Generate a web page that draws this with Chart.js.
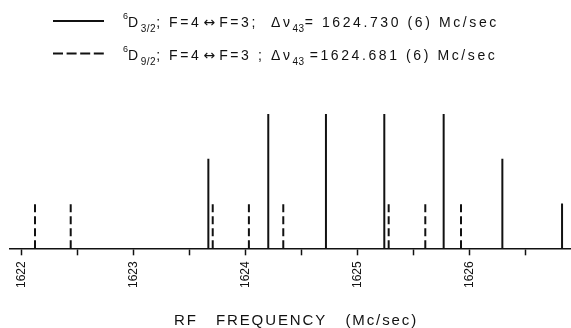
<!DOCTYPE html>
<html>
<head>
<meta charset="utf-8">
<script src="https://cdn.jsdelivr.net/npm/chart.js@4.4.1/dist/chart.umd.min.js"></script>
<style>
html,body{margin:0;padding:0;background:#fff;}
#wrap{position:relative;width:571px;height:328px;overflow:hidden;background:#fff;}
#c{position:absolute;left:0;top:0;}
#legsvg{position:absolute;left:0;top:0;}
.leg{position:absolute;left:123px;font-family:"Liberation Sans",Arial,sans-serif;font-size:14px;color:#111;white-space:nowrap;letter-spacing:2.6px;line-height:1;}
.leg .sp{font-size:9px;position:relative;top:-8px;letter-spacing:0;}
.leg .sb{font-size:10px;position:relative;top:5px;letter-spacing:0.5px;}
.leg .ar{font-family:"DejaVu Sans",sans-serif;font-size:14px;letter-spacing:0;margin:0 4px 0 2px;}
.leg .gap{margin-right:5px;}
#l1{top:15px;}
#l2{top:48px;}
</style>
</head>
<body>
<div id="wrap">
<canvas id="c" width="571" height="328"></canvas>
<svg id="legsvg" width="571" height="80">
  <line x1="53" y1="21" x2="104" y2="21" stroke="#111" stroke-width="2"/>
  <line x1="53" y1="53.5" x2="104" y2="53.5" stroke="#111" stroke-width="2" stroke-dasharray="10 3.6"/>
</svg>
<div class="leg" id="l1"><span class="sp">6</span>D<span class="sb">3/2</span>; F=4<span class="ar">↔</span>F=3;&nbsp; Δν<span class="sb">43</span>= 1624.730 (6) Mc/sec</div>
<div class="leg" id="l2"><span class="sp">6</span>D<span class="sb">9/2</span>; F=4<span class="ar">↔</span>F=3 ;&nbsp;Δν<span class="sb gap">43</span>=1624.681 (6) Mc/sec</div>
</div>
<script>
// D3/2 lines (solid)
const solidFreq = [1623.671, 1624.206, 1624.721, 1625.242, 1625.772, 1626.296, 1626.829];
const solidInt  = [2, 3, 3, 3, 3, 2, 1];
// D9/2 lines (dashed)
const dashedFreq = [1622.123, 1622.442, 1623.710, 1624.033, 1624.340, 1625.281, 1625.608, 1625.927];
const dashedInt  = [1, 1, 1, 1, 1, 1, 1, 1];
// axis
const tickValues = [1622, 1622.5, 1623, 1623.5, 1624, 1624.5, 1625, 1625.5, 1626, 1626.5];
const xMin = 1621.9, xMax = 1626.9;
const yMin = 0, yMax = 3;
const xTitle = 'RF   FREQUENCY   (Mc/sec)';

function stems(freqs, ints) {
  const pts = [];
  freqs.forEach((f, i) => { pts.push({x: f, y: 0}, {x: f, y: ints[i]}, {x: f, y: null}); });
  return pts;
}

const ink = '#111';
const titleSpacing = {
  id: 'titleSpacing',
  beforeDraw(chart) {
    const xs = chart.scales.x;
    if (!xs._wrappedTitle) {
      const orig = xs.drawTitle;
      xs.drawTitle = function () {
        this.ctx.save();
        this.ctx.letterSpacing = '1.9px';
        this.ctx.translate(6, 0);
        orig.call(this);
        this.ctx.restore();
      };
      xs._wrappedTitle = true;
    }
  }
};

new Chart(document.getElementById('c'), {
  type: 'line',
  data: {
    datasets: [
      { label: '6D3/2', data: stems(solidFreq, solidInt), borderColor: ink, borderWidth: 2, pointRadius: 0, spanGaps: false, tension: 0, borderCapStyle: 'butt' },
      { label: '6D9/2', data: stems(dashedFreq, dashedInt), borderColor: ink, borderWidth: 2, borderDash: [8, 4], pointRadius: 0, spanGaps: false, tension: 0, borderCapStyle: 'butt' }
    ]
  },
  options: {
    responsive: false,
    animation: false,
    events: [],
    layout: { padding: { left: 10, right: 1, top: 114, bottom: 0 } },
    plugins: { legend: { display: false }, tooltip: { enabled: false } },
    scales: {
      x: {
        type: 'linear', min: xMin, max: xMax,
        afterBuildTicks: s => { s.ticks = tickValues.map(v => ({ value: v })); },
        ticks: {
          autoSkip: false, minRotation: 90, maxRotation: 90, padding: 6, color: ink,
          font: { family: 'Liberation Sans', size: 12 },
          callback: v => Number.isInteger(v) ? String(v) : ''
        },
        grid: { drawOnChartArea: false, drawTicks: true, tickLength: 7, tickWidth: 1.5, tickColor: ink },
        border: { display: true, color: ink, width: 1.5 },
        title: { display: true, text: xTitle, color: ink, font: { family: 'Liberation Sans', size: 15, lineHeight: 1 }, padding: { top: 19, bottom: 0 } }
      },
      y: { display: false, min: yMin, max: yMax }
    }
  },
  plugins: [titleSpacing]
});
</script>
</body>
</html>
